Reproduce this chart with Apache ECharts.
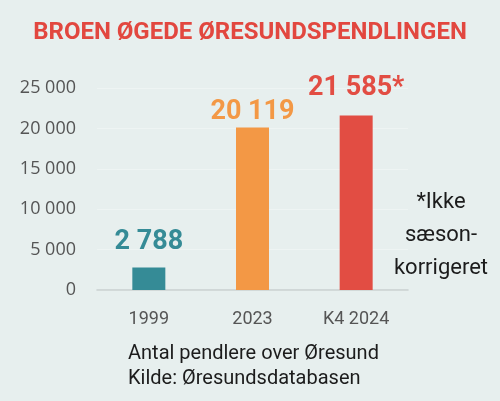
<!DOCTYPE html>
<html>
<head>
<meta charset="utf-8">
<script src="https://cdn.jsdelivr.net/npm/echarts@6/dist/echarts.min.js"></script>
<style>
html,body{margin:0;padding:0;background:#e7efee;}
#c{width:500px;height:401px;}
</style>
</head>
<body>
<div id="c"></div>
<script>
const title = 'BROEN ØGEDE ØRESUNDSPENDLINGEN';
const categories = ['1999', '2023', 'K4 2024'];
const values = [2788, 20119, 21585];
const valueSuffix = ['', '', '*'];
const yTicks = [0, 5000, 10000, 15000, 20000, 25000];
const footerLines = ['Antal pendlere over Øresund', 'Kilde: Øresundsdatabasen'];
const noteLines = ['*Ikke', 'sæson-', 'korrigeret'];

const barColors = ['#358b96', '#f39845', '#e24d43'];
const labelDist = [12, 2, 14];
function fmt(v){ return String(v).replace(/\B(?=(\d{3})+(?!\d))/g, ' '); }

const chart = echarts.init(document.getElementById('c'));
chart.setOption({
  backgroundColor: '#e7efee',
  animation: false,
  title: {
    text: title, left: 'center', top: 16,
    textStyle: {fontFamily: 'Roboto', fontWeight: 'bold', fontSize: 24, color: '#e2473f'}
  },
  grid: {left: 97, right: 92, top: 88, bottom: 111},
  xAxis: {
    type: 'category', data: categories,
    axisLine: {show: true, lineStyle: {color: '#c9cfcf', width: 1.5}},
    axisTick: {show: false},
    axisLabel: {margin: 20, fontFamily: 'Roboto', fontSize: 18, color: '#555'}
  },
  yAxis: {
    type: 'value', min: yTicks[0], max: yTicks[yTicks.length-1], interval: yTicks[1]-yTicks[0],
    axisLine: {show: false}, axisTick: {show: false},
    splitLine: {show: true, lineStyle: {color: '#eef4f3', width: 1}},
    axisLabel: {margin: 21, fontFamily: 'Open Sans', fontSize: 18, color: '#555', formatter: v => fmt(v)}
  },
  series: [{
    type: 'bar', barWidth: 33,
    data: values.map((v, i) => ({
      value: v,
      itemStyle: {color: barColors[i]},
      label: {
        show: true, position: 'top', distance: labelDist[i],
        formatter: fmt(v) + valueSuffix[i],
        fontFamily: 'Roboto', fontWeight: 'bold', fontSize: 27, color: barColors[i]
      }
    }))
  }],
  graphic: [
    {type: 'text', left: 128, top: 341,
     style: {text: footerLines.join('\n'), fontFamily: 'Roboto', fontSize: 20, lineHeight: 25, letterSpacing: 0.3, fill: '#1c1c1c'}},
    {type: 'text', x: 441, y: 186,
     style: {text: noteLines.join('\n'), align: 'center', fontFamily: 'Roboto', fontSize: 22, lineHeight: 33, letterSpacing: 1.3, fill: '#1c1c1c'}}
  ]
});
</script>
</body>
</html>
